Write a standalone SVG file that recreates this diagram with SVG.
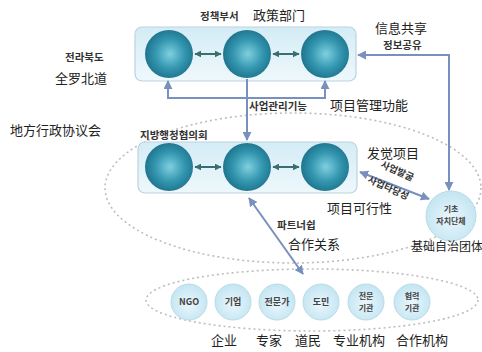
<svg xmlns="http://www.w3.org/2000/svg" width="482" height="352" viewBox="0 0 482 352">
<style>
.ko{font-family:"Noto Sans CJK KR","Noto Sans",sans-serif;font-weight:bold;fill:#333;font-size:10.5px}
.zh{font-family:"Noto Sans CJK SC",sans-serif;fill:#222;font-size:13px}
.box{fill:url(#boxg);stroke:#bcd3de;stroke-width:1.2}
.big{fill:url(#ballg)}
.small{fill:url(#smallg);stroke:#b9dbe8;stroke-width:1}
.dot{fill:none;stroke:#bdbdbd;stroke-width:1.6;stroke-dasharray:2 3}
.conn{fill:none;stroke:#7890bd;stroke-width:2}
.dbl{fill:none;stroke:#3b6e6e;stroke-width:2}
.sk{font-family:"Noto Sans CJK KR","Noto Sans",sans-serif;font-weight:bold;fill:#444;font-size:9px;text-anchor:middle}
.sk2{font-family:"Noto Sans CJK KR","Noto Sans",sans-serif;font-weight:bold;fill:#444;font-size:8px;text-anchor:middle}
</style>
<defs>
<radialGradient id="ballg" cx="0.52" cy="0.5" r="0.55">
<stop offset="0" stop-color="#7fd0e0"/>
<stop offset="0.55" stop-color="#3597b0"/>
<stop offset="1" stop-color="#1b7089"/>
</radialGradient>
<linearGradient id="boxg" x1="0" y1="0" x2="0" y2="1">
<stop offset="0" stop-color="#d4ecf6"/>
<stop offset="1" stop-color="#eef8fc"/>
</linearGradient>
<radialGradient id="smallg" cx="0.5" cy="0.55" r="0.6">
<stop offset="0" stop-color="#eaf7fc"/>
<stop offset="1" stop-color="#bfe3f1"/>
</radialGradient>
<marker id="ah" viewBox="0 0 10 10" refX="9" refY="5" markerWidth="4.5" markerHeight="4.5" orient="auto-start-reverse">
<path d="M0,0 L10,5 L0,10 z" fill="#7890bd"/>
</marker>
<marker id="dh" viewBox="0 0 10 10" refX="9" refY="5" markerWidth="3.5" markerHeight="3.5" orient="auto-start-reverse">
<path d="M0,0 L10,5 L0,10 z" fill="#3b6e6e"/>
</marker>
</defs>

<g id="council-ellipse"><ellipse class="dot" cx="293" cy="188" rx="188" ry="75"/></g>
<g id="stakeholder-ellipse"><ellipse class="dot" cx="312" cy="300" rx="166" ry="31"/></g>

<g id="province">
<rect class="box" x="135" y="27" width="221" height="54" rx="7"/>
<circle class="big" cx="169" cy="54" r="24"/>
<circle class="big" cx="247" cy="54" r="24"/>
<circle class="big" cx="325" cy="54" r="24"/>
<text class="ko" x="200" y="20">정책부서</text>
<text class="zh" x="253" y="20">政策部门</text>
<text class="ko" x="65" y="61">전라북도</text>
<text class="zh" x="55" y="83">全罗北道</text>
</g>

<g id="council">
<rect class="box" x="138" y="142" width="219" height="51" rx="7"/>
<circle class="big" cx="169" cy="167" r="24"/>
<circle class="big" cx="247" cy="167" r="24"/>
<circle class="big" cx="325" cy="167" r="24"/>
<text class="ko" x="140" y="139">지방행정협의회</text>
<text class="zh" x="10" y="135">地方行政协议会</text>
</g>

<g id="basic-gov">
<circle class="small" cx="451" cy="216" r="25"/>
<text class="sk2" x="451" y="212">기초</text>
<text class="sk2" x="451" y="224">자치단체</text>
<text class="zh" x="411" y="251" style="font-size:12px">基础自治团体</text>
</g>

<g id="stakeholders">
<circle class="small" cx="189" cy="302" r="18"/><text class="sk" x="189" y="305">NGO</text>
<circle class="small" cx="233" cy="302" r="18"/><text class="sk" x="233" y="305">기업</text>
<circle class="small" cx="277" cy="302" r="18"/><text class="sk" x="277" y="305">전문가</text>
<circle class="small" cx="321" cy="302" r="18"/><text class="sk" x="321" y="305">도민</text>
<circle class="small" cx="366" cy="302" r="18"/><text class="sk2" x="366" y="299">전문</text><text class="sk2" x="366" y="311">기관</text>
<circle class="small" cx="412" cy="302" r="18"/><text class="sk2" x="412" y="299">협력</text><text class="sk2" x="412" y="311">기관</text>
<text class="zh" x="224" y="345" text-anchor="middle">企业</text>
<text class="zh" x="269" y="345" text-anchor="middle">专家</text>
<text class="zh" x="308" y="345" text-anchor="middle">道民</text>
<text class="zh" x="359" y="345" text-anchor="middle">专业机构</text>
<text class="zh" x="422" y="345" text-anchor="middle">合作机构</text>
</g>

<g id="connectors">
<line class="dbl" x1="195" y1="54" x2="221" y2="54" marker-start="url(#dh)" marker-end="url(#dh)"/>
<line class="dbl" x1="273" y1="54" x2="299" y2="54" marker-start="url(#dh)" marker-end="url(#dh)"/>
<line class="dbl" x1="195" y1="167" x2="221" y2="167" marker-start="url(#dh)" marker-end="url(#dh)"/>
<line class="dbl" x1="273" y1="167" x2="299" y2="167" marker-start="url(#dh)" marker-end="url(#dh)"/>
<polyline class="conn" points="449,190 449,55 358,55" marker-start="url(#ah)" marker-end="url(#ah)"/>
<polyline class="conn" points="168,81 168,98 325,98 325,81" marker-start="url(#ah)" marker-end="url(#ah)"/>
<line class="conn" x1="247" y1="79" x2="247" y2="140" marker-end="url(#ah)"/>
<line class="conn" x1="360" y1="172" x2="429" y2="199" marker-start="url(#ah)" marker-end="url(#ah)"/>
<line class="conn" x1="249" y1="198" x2="303" y2="274" marker-start="url(#ah)" marker-end="url(#ah)"/>
<text class="ko" x="383" y="49">정보공유</text>
<text class="zh" x="375" y="33">信息共享</text>
<text class="ko" x="249" y="110">사업관리기능</text>
<text class="zh" x="330" y="110">项目管理功能</text>
<text class="zh" x="367" y="158">发觉项目</text>
<text class="ko" transform="translate(380,167) rotate(24)" style="font-size:9.5px">사업발굴</text>
<text class="ko" transform="translate(367,182) rotate(24)" style="font-size:9.5px">사업타당성</text>
<text class="zh" x="327" y="213">项目可行性</text>
<text class="ko" x="277" y="229">파트너쉽</text>
<text class="zh" x="288" y="249">合作关系</text>
</g>
</svg>
